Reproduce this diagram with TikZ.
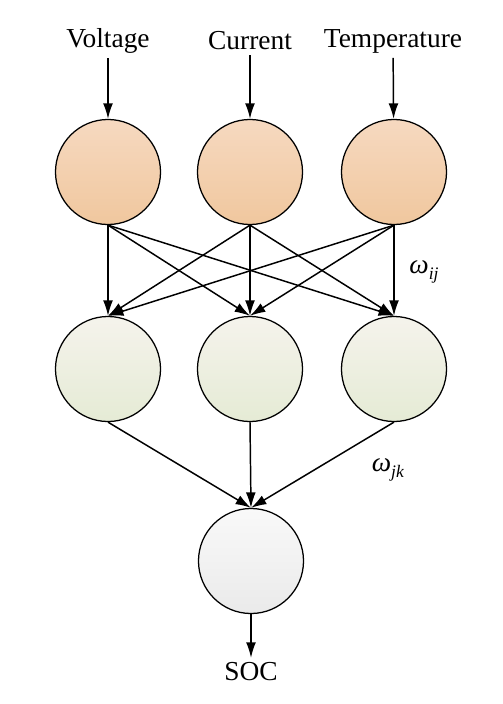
\documentclass[tikz,border=0pt]{standalone}
\usepackage{fontspec}
\setmainfont{Liberation Serif}
\usetikzlibrary{arrows.meta,positioning}
\definecolor{peachtop}{HTML}{F6D9C0}
\definecolor{peachbot}{HTML}{F0C79E}
\definecolor{sagetop}{HTML}{F5F3EC}
\definecolor{sagebot}{HTML}{E5EBD5}
\definecolor{greytop}{HTML}{F9F9F9}
\definecolor{greybot}{HTML}{EAEAEA}
\newcommand{\wlabel}[1]{\textit{ω}\raisebox{-4.5pt}{\fontsize{12.5}{14}\selectfont\textit{#1}}}

\begin{document}
\begin{tikzpicture}[x=0.025cm,y=-0.025cm,
 n/.style={circle,draw=black,line width=0.9pt,minimum size=2.625cm,inner sep=0pt},
 inp/.style={n,top color=peachtop,bottom color=peachbot},
 hid/.style={n,top color=sagetop,bottom color=sagebot},
 outp/.style={n,top color=greytop,bottom color=greybot},
 line/.style={draw=black,line width=1.05pt,-{Latex[length=11pt,width=7pt]}},
 font=\fontsize{19.5}{23}\selectfont]
 \useasboundingbox (0,0) rectangle (503,704);
 \node (v) at (108,41) {Voltage};
 \node (c) at (250,41) {Current};
 \node (t) at (393,41) {Temperature};
 \node[inp] (i1) at (108,172) {};
 \node[inp] (i2) at (250,172) {};
 \node[inp] (i3) at (394,172) {};
 \foreach \x [count=\j] in {108,250,394}
   \node[hid] (h\j) at (\x,369) {};
 \node[outp] (o) at (251,561) {};
 \node (soc) at (251,672) {SOC};
 \draw[line] (v)--(i1);
 \draw[line] (c)--(i2);
 \draw[line] (t)--(i3);
 \foreach \i in {1,2,3}{
   \foreach \j in {1,2,3}{\draw[line] (i\i.south)--(h\j.north);}
   \draw[line] (h\i.south)--(o.north);
 }
 \draw[line] (o)--(soc);
 \node (wij) at (424,272) {\wlabel{ij}};
 \node (wjk) at (388,470) {\wlabel{jk}};
\end{tikzpicture}
\end{document}
